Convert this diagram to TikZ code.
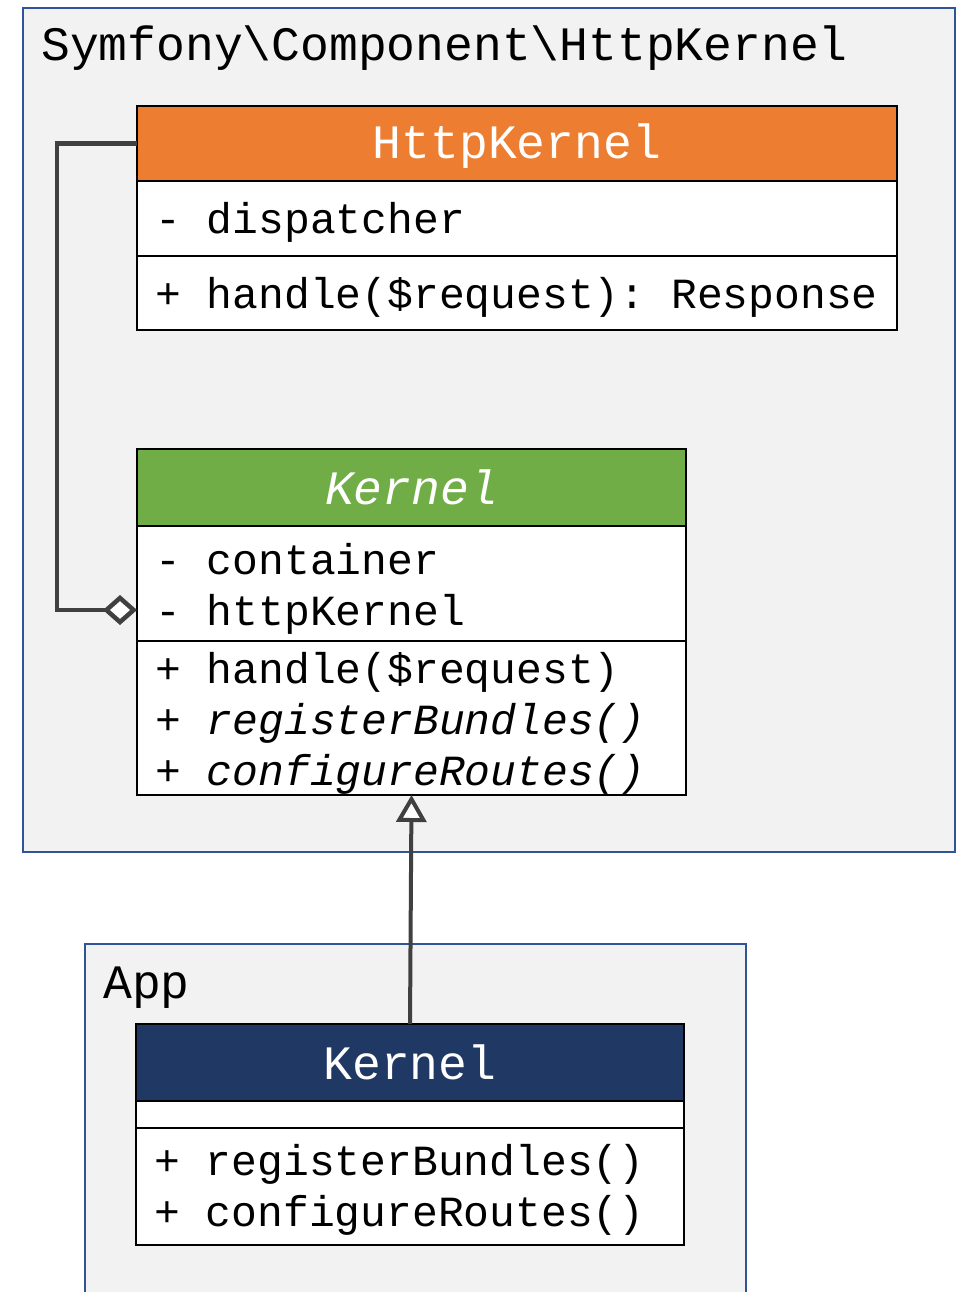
\documentclass[tikz,border=0pt]{standalone}
\usepackage{fontspec}
\setmonofont{Liberation Mono}
\usetikzlibrary{arrows.meta}
\definecolor{pkgfill}{HTML}{F2F2F2}
\definecolor{pkgline}{HTML}{2F5597}
\definecolor{hkorange}{HTML}{ED7D31}
\definecolor{kgreen}{HTML}{70AD47}
\definecolor{appnavy}{HTML}{203864}
\definecolor{wire}{HTML}{404040}
\tikzset{
  pkg/.style={fill=pkgfill, draw=pkgline, line width=2.2pt},
  pkglabel/.style={anchor=base west, inner sep=0pt, font=\ttfamily\fontsize{48}{48}\selectfont},
  classbox/.style={draw=black, fill=white, line width=2.8pt, anchor=north west, inner sep=0pt, outer sep=0pt},
  classhead/.style={draw=black, line width=2.8pt, anchor=north west, inner sep=0pt, outer sep=0pt},
  divider/.style={draw=black, line width=2.8pt},
  classtitle/.style={anchor=base, inner sep=0pt, text=white, font=\ttfamily\fontsize{48}{48}\selectfont},
  member/.style={anchor=base west, inner sep=0pt, font=\ttfamily\fontsize{43}{43}\selectfont},
  aggr/.style={draw=wire, line width=4.5pt, -{Diamond[length=34pt,width=30pt,fill=white]}},
  inherit/.style={draw=wire, line width=4pt, -{Triangle[length=27pt,width=30pt,fill=white]}},
}
\begin{document}
\begin{tikzpicture}[x=1pt,y=-1pt]
\useasboundingbox (0,0) rectangle (961,1292);
\clip (0,0) rectangle (961,1292);

% packages
\draw[pkg] (23,8) rectangle (955,852);
\node[pkglabel] (pkgsym) at (41,61) {Symfony\textbackslash Component\textbackslash HttpKernel};
\draw[pkg] (85,944) rectangle (746,1320);
\node[pkglabel] (pkgapp) at (103,998) {App};

% HttpKernel class
\node[classbox, minimum width=760pt, minimum height=224pt] (hk) at (137,106) {};
\node[classhead, fill=hkorange, minimum width=760pt, minimum height=75pt] (hkhead) at (137,106) {};
\draw[divider] (137,256) -- (897,256);
\node[classtitle] (hktitle) at (517,159) {HttpKernel};
\node[member] (hkattr) at (155,233) {- dispatcher};
\node[member] (hkop) at (155,308) {+ handle(\$request): Response};

% abstract Kernel class
\node[classbox, minimum width=549pt, minimum height=346pt] (k) at (137,449) {};
\node[classhead, fill=kgreen, minimum width=549pt, minimum height=77pt] (khead) at (137,449) {};
\draw[divider] (137,641) -- (686,641);
\node[classtitle] (ktitle) at (411.5,504) {\itshape Kernel};
\node[member] (kattra) at (155,574) {- container};
\node[member] (kattrb) at (155,625) {- httpKernel};
\node[member] (kopa) at (155,683) {+ handle(\$request)};
\node[member] (kopb) at (155,734) {+ \textit{registerBundles()}};
\node[member] (kopc) at (155,785) {+ \textit{configureRoutes()}};
\coordinate (kagg) at (137,610);

% App Kernel class
\node[classbox, minimum width=548pt, minimum height=221pt] (ak) at (136,1024) {};
\node[classhead, fill=appnavy, minimum width=548pt, minimum height=77pt] (akhead) at (136,1024) {};
\draw[divider] (136,1128) -- (684,1128);
\node[classtitle] (aktitle) at (410,1079) {Kernel};
\node[member] (akopa) at (154,1175) {+ registerBundles()};
\node[member] (akopb) at (154,1226) {+ configureRoutes()};

% relations
\draw[aggr] (hkhead.west) -- ++(-80,0) |- (kagg);
\draw[inherit] (akhead.north) -- (k.south);
\end{tikzpicture}
\end{document}
